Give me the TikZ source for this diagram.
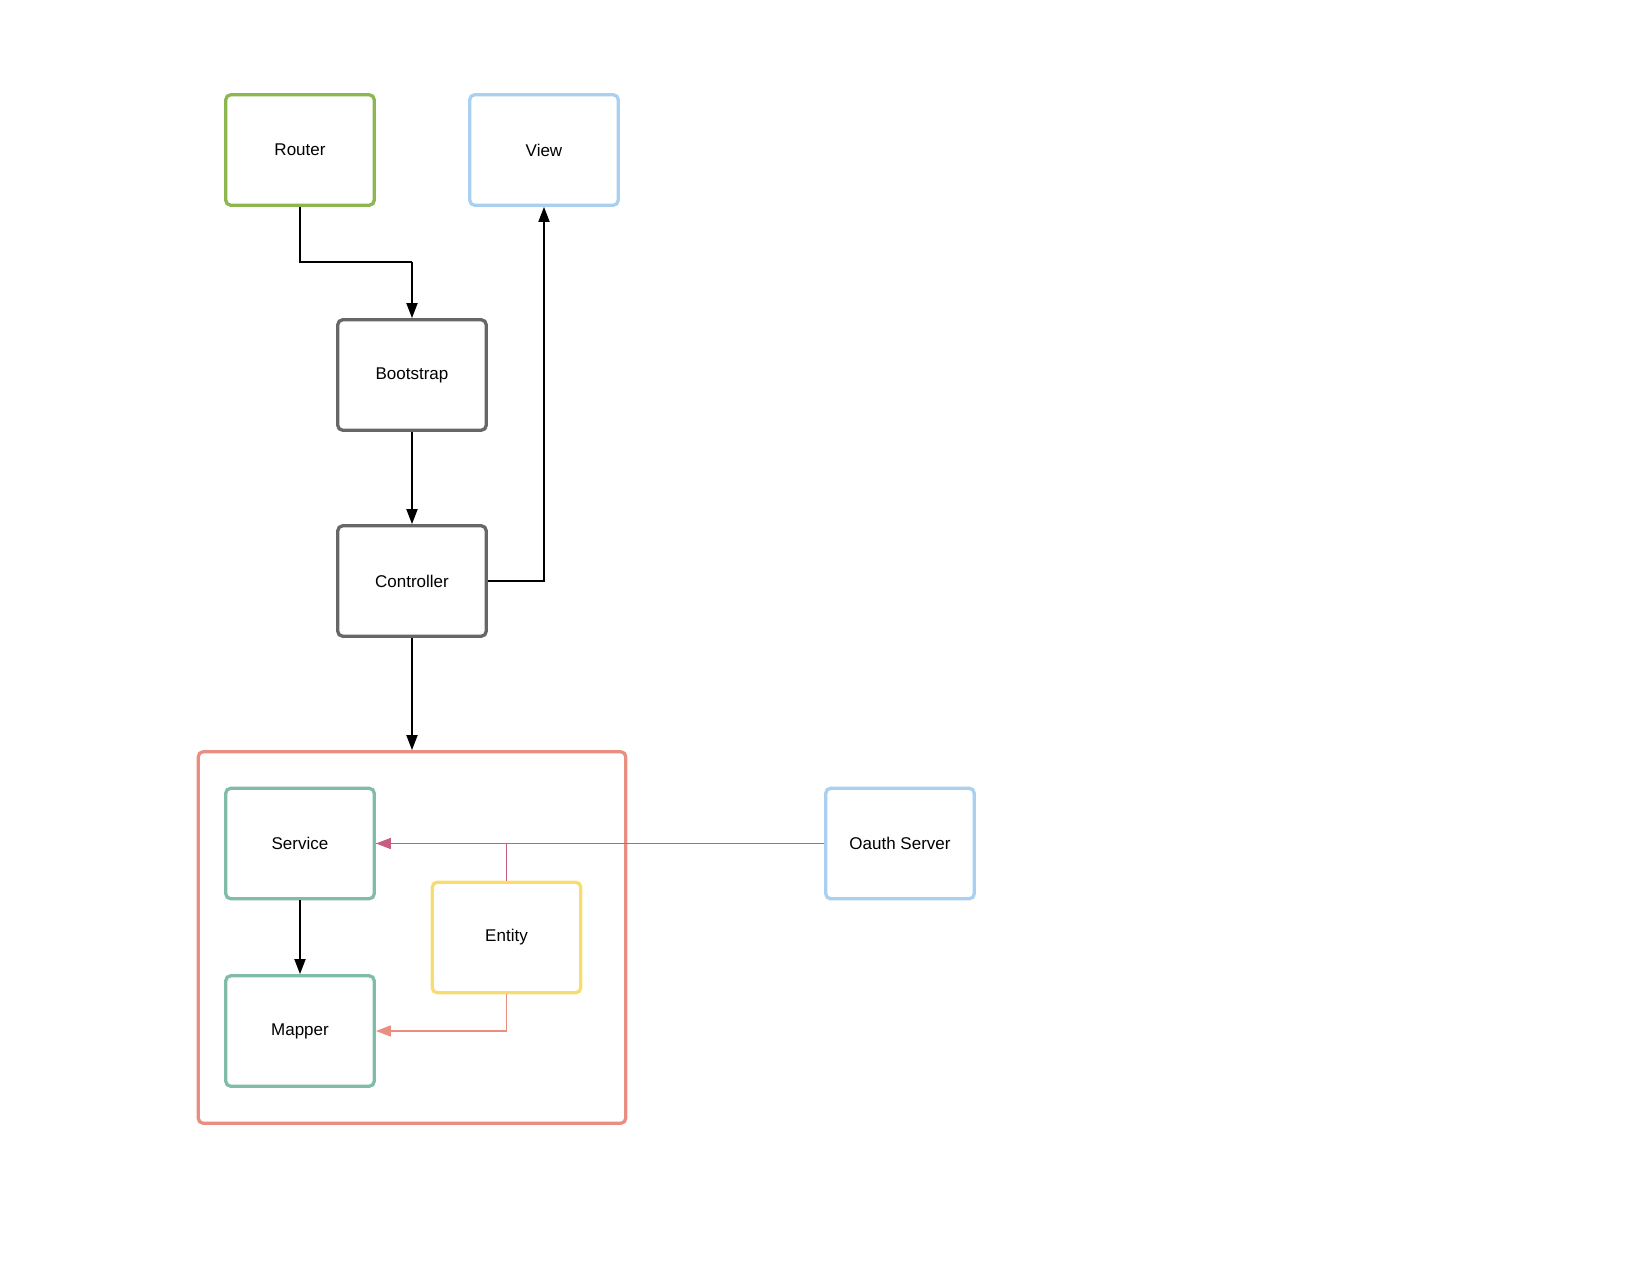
\documentclass[tikz,border=0pt]{standalone}
\usepackage{fontspec}
\setmainfont{Liberation Sans}
\usetikzlibrary{arrows.meta}
\definecolor{cgreen}{HTML}{8BB650}
\definecolor{cblue}{HTML}{A9D0F0}
\definecolor{cgray}{HTML}{676767}
\definecolor{csalmon}{HTML}{E98E80}
\definecolor{cteal}{HTML}{80BCA6}
\definecolor{cyellow}{HTML}{F8DC70}
\definecolor{cpink}{HTML}{C75E82}
\tikzset{
  box/.style={draw=#1, line width=3.3pt, rounded corners=5pt, minimum width=148.5pt, minimum height=110.5pt, inner sep=0pt, font=\fontsize{17}{20}\selectfont, fill=white},
  conn/.style={draw=black, line width=1.8pt, -{Triangle[length=15pt,width=11pt]}},
  pconn/.style={draw=cpink, line width=1.6pt},
  sconn/.style={draw=csalmon, line width=1.6pt},
}
\begin{document}
\begin{tikzpicture}[x=1pt,y=-1pt]
\useasboundingbox (0,0) rectangle (1650,1275);
\node[draw=csalmon, line width=3.3pt, rounded corners=5pt, minimum width=427.5pt, minimum height=371.5pt, inner sep=0pt] (layer) at (412,937.5) {};
\node[box=cgreen] (router) at (300,150) {Router};
\node[box=cblue] (view) at (544,150) {View};
\node[box=cgray] (boot) at (412,375) {Bootstrap};
\node[box=cgray] (ctrl) at (412,581) {Controller};
\node[box=cteal] (service) at (300,843.5) {Service};
\node[box=cteal] (mapper) at (300,1031) {Mapper};
\node[box=cyellow] (entity) at (506.5,937.5) {Entity};
\node[box=cblue] (oauth) at (900,843.5) {Oauth Server};
\coordinate (rb) at (412,262);
\draw[line width=1.8pt] (router.south) |- (rb);
\draw[conn] (rb) -- (boot.north);
\draw[conn] (boot.south) -- (ctrl.north);
\draw[conn] (ctrl.east) -| (view.south);
\draw[conn] (ctrl.south) -- (layer.north);
\draw[conn] (service.south) -- (mapper.north);
\draw[pconn] (entity.north) |- (service.east);
\draw[pconn, -{Triangle[length=15pt,width=11pt]}] (oauth.west) -- (service.east);
\draw[sconn, -{Triangle[length=15pt,width=11pt]}] (entity.south) |- (mapper.east);
\end{tikzpicture}
\end{document}
